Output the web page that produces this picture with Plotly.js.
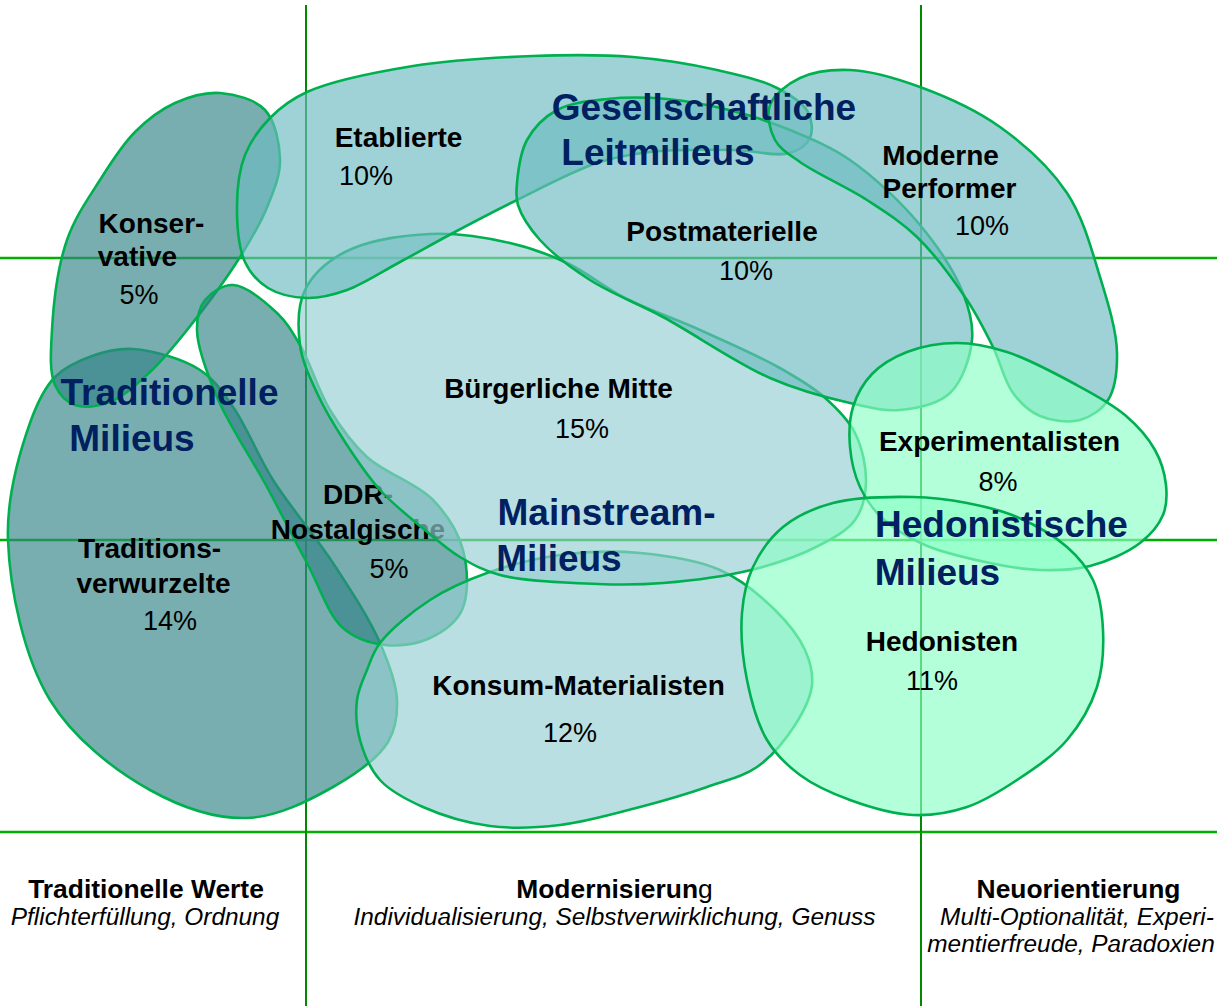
<!DOCTYPE html>
<html>
<head>
<meta charset="utf-8">
<script src="https://cdn.plot.ly/plotly-3.0.1.min.js"></script>
<style>
html,body{margin:0;padding:0;background:#fff;overflow:hidden}
#chart{width:1217px;height:1006px}
</style>
</head>
<body>
<div id="chart"></div>
<script>
// ---------------- DATA ----------------
const milieus = ['Traditionsverwurzelte','Konservative','DDR-Nostalgische','Konsum-Materialisten','Bürgerliche Mitte','Etablierte','Postmaterielle','Moderne Performer','Experimentalisten','Hedonisten'];
const shares = [14, 5, 5, 12, 15, 10, 10, 10, 8, 11];
const milieuLabelLines = [['Traditions-','verwurzelte'],['Konser-','vative'],['DDR-','Nostalgische'],['Konsum-Materialisten'],['Bürgerliche Mitte'],['Etablierte'],['Postmaterielle'],['Moderne','Performer'],['Experimentalisten'],['Hedonisten']];
const groupLabelLines = [['Gesellschaftliche','Leitmilieus'],['Traditionelle','Milieus'],['Mainstream-','Milieus'],['Hedonistische','Milieus']];
const valueHeads = ['Traditionelle Werte','Modernisierung','Neuorientierung'];
const valueSubs = [['Pflichterfüllung, Ordnung'],['Individualisierung, Selbstverwirklichung, Genuss'],['Multi-Optionalität, Experi-','mentierfreude, Paradoxien']];

// ---------------- GEOMETRY / STYLE ----------------
const outlines = [
  [[55,377],[92,356],[133,349],[200,370],[233,407],[273,480],[333,563],[380,643],[397,700],[388,742],[333,787],[247,818],[150,790],[50,700],[8,540],[30,423]],
  [[220,93],[265,110],[280,160],[268,205],[240,257],[187,330],[150,372],[110,402],[75,405],[55,385],[52,330],[67,240],[100,180],[135,132],[175,103]],
  [[233,285],[277,313],[300,345],[330,410],[367,457],[433,500],[463,550],[462,610],[430,638],[385,645],[343,628],[307,563],[267,487],[217,397],[197,330],[205,300]],
  [[380,643],[430,600],[487,573],[560,555],[640,553],[720,570],[775,610],[805,650],[812,685],[795,725],[757,767],[707,787],[640,807],[560,825],[490,826],[423,807],[380,780],[360,740],[357,700],[367,670]],
  [[430,234],[510,243],[567,263],[625,298],[700,330],[778,367],[824,397],[855,433],[866,483],[855,520],[816,547],[751,570],[663,583],[598,584],[500,575],[460,557],[425,530],[380,490],[345,442],[318,395],[300,345],[305,290],[345,252]],
  [[307,92],[413,66],[533,56],[633,57],[717,70],[777,88],[808,112],[810,138],[790,153],[733,150],[650,152],[597,163],[513,202],[453,233],[400,262],[347,290],[307,298],[268,288],[245,262],[237,205],[245,155],[270,118]],
  [[517,183],[527,140],[557,110],[607,99],[667,99],[733,111],[790,130],[850,160],[920,225],[963,293],[972,340],[950,393],[900,410],[850,403],[770,378],[663,317],[590,280],[540,240],[518,205]],
  [[770,105],[800,78],[850,70],[920,87],[1000,127],[1067,193],[1100,277],[1117,353],[1108,400],[1080,420],[1040,416],[1013,393],[993,347],[967,300],[917,237],[867,200],[800,162],[775,140]],
  [[957,343],[907,352],[872,374],[853,407],[850,447],[860,487],[882,518],[925,545],[990,563],[1040,570],[1090,566],[1140,543],[1163,515],[1166,485],[1155,450],[1125,415],[1073,383],[1007,352]],
  [[913,497],[833,503],[783,527],[753,567],[742,613],[747,680],[767,740],[800,775],[850,800],[913,815],[967,807],[1017,780],[1067,740],[1097,687],[1103,630],[1093,580],[1067,547],[1017,517],[967,503]]
];
const FILL_DARK = 'rgba(50,132,135,0.66)';
const FILL_MID = 'rgba(108,187,193,0.66)';
const FILL_LIGHT = 'rgba(150,206,211,0.66)';
const FILL_GREEN = 'rgba(140,255,197,0.66)';
const fills = [FILL_DARK, FILL_DARK, FILL_DARK, FILL_LIGHT, FILL_LIGHT, FILL_MID, FILL_MID, FILL_MID, FILL_GREEN, FILL_GREEN];
const OUTLINE = '#00b050';
const NAVY = '#002060';
const FONT = 'Liberation Sans, Arial, sans-serif';
const TEXT_DY = 3;

// label line centres per milieu
const nameAnchors = [
  [[149.5,548],[153.5,583]],
  [[151.5,223],[137.5,256]],
  [[358,494],[358,529]],
  [[578.5,685]],
  [[558.5,388]],
  [[398.5,137]],
  [[722,231]],
  [[940.5,155],[949.5,188]],
  [[999.5,441]],
  [[942,641]]
];
const shareAnchors = [[170,620],[139,294],[389,568],[570,732],[582,428],[366,175],[746,270],[982,225],[998,481],[932,680]];
const groupAnchors = [
  [[704,108],[658,152.5]],
  [[169.5,392.5],[132,438.5]],
  [[606.5,513],[559,559]],
  [[1001.5,525],[937.5,572.5]]
];
const headAnchors = [[146,888],[614.5,888],[1078.5,888]];
const subAnchors = [[[145,916]],[[614.5,916]],[[1077,916],[1071,943]]];

const DDR = 2;
const blobOrder = [0,1,2,3,'ddrLabel',4,5,6,7,8,9];

function blobTrace(i){
  const pts = outlines[i].concat([outlines[i][0]]);
  return {
    type:'scatter', mode:'lines', name: milieus[i],
    x: pts.map(p=>p[0]), y: pts.map(p=>p[1]),
    fill:'toself', fillcolor: fills[i],
    line:{color:OUTLINE, width:2.6, shape:'spline', smoothing:1},
    hoverinfo:'skip', showlegend:false
  };
}
function textTrace(xy, texts, size, color, weight, style){
  return {
    type:'scatter', mode:'text',
    x: xy.map(p=>p[0]), y: xy.map(p=>p[1] + TEXT_DY), text: texts,
    textposition:'middle center',
    textfont:{family:FONT, size:size, color:color, weight:weight||'normal', style:style||'normal'},
    hoverinfo:'skip', showlegend:false, cliponaxis:true
  };
}
function milieuLabelTraces(i){
  return [
    textTrace(nameAnchors[i], milieuLabelLines[i], 28, '#000', 'bold'),
    textTrace([shareAnchors[i]], [shares[i] + '%'], 27, '#000', 'normal')
  ];
}

const traces = [];
blobOrder.forEach(k => {
  if (k === 'ddrLabel') { traces.push(...milieuLabelTraces(DDR)); }
  else traces.push(blobTrace(k));
});
milieus.forEach((m,i) => { if (i !== DDR) traces.push(...milieuLabelTraces(i)); });
groupLabelLines.forEach((lines,g) => traces.push(textTrace(groupAnchors[g], lines, 37, NAVY, 'bold')));
// value orientation captions
const headTexts = valueHeads.map(h => h === 'Modernisierung' ? '<b>' + h.slice(0,-1) + '</b>' + h.slice(-1) : '<b>' + h + '</b>');
traces.push(textTrace(headAnchors, headTexts, 26.4, '#000', 'normal'));
valueSubs.forEach((lines,k) => traces.push(textTrace(subAnchors[k], lines, 24.4, '#000', 'normal', 'italic')));

const hLineY = [258, 540, 832];
const vLineX = [306, 921];
const shapes = [];
hLineY.forEach(y => shapes.push({type:'line', xref:'x', yref:'y', x0:0, x1:1217, y0:y, y1:y, layer:'below', line:{color:'#00b000', width:2.5}}));
vLineX.forEach(x => shapes.push({type:'line', xref:'x', yref:'y', x0:x, x1:x, y0:5, y1:1006, layer:'below', line:{color:'#008a00', width:2}}));

const layout = {
  width:1217, height:1006,
  margin:{l:0,r:0,t:0,b:0,pad:0},
  paper_bgcolor:'#ffffff', plot_bgcolor:'#ffffff',
  showlegend:false,
  xaxis:{range:[0,1217], visible:false, fixedrange:true},
  yaxis:{range:[1006,0], visible:false, fixedrange:true},
  shapes: shapes
};
Plotly.newPlot('chart', traces, layout, {staticPlot:true, displayModeBar:false});
</script>
</body>
</html>
